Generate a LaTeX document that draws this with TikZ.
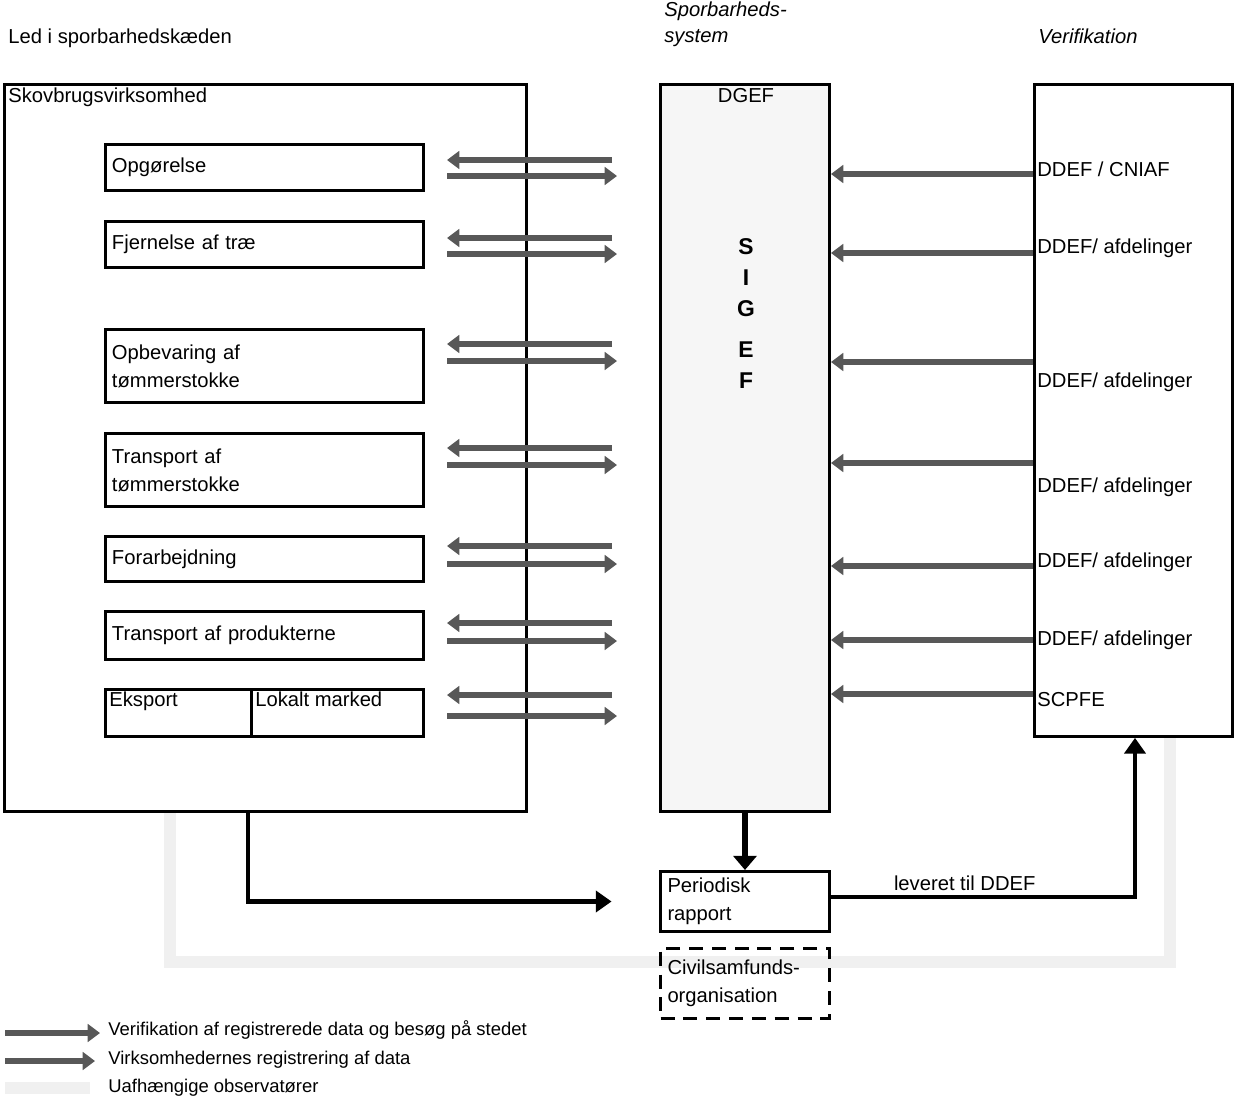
\documentclass[tikz,border=0pt]{standalone}
\usepackage{fontspec}
\setmainfont{Liberation Sans}
\usetikzlibrary{arrows.meta,positioning}

\definecolor{arrgray}{HTML}{585858}
\definecolor{obsgray}{HTML}{F0F0F0}
\definecolor{sysfill}{HTML}{F6F6F6}

\tikzset{
  box/.style={draw, line width=1.7pt, anchor=north west, inner sep=2pt, align=left},
  txt/.style={inner sep=0pt, anchor=west, text height=1.6ex, text depth=0.4ex, font=\fontsize{11.5}{14}\selectfont},
  datarrow/.style={arrgray, line width=3.4pt, -{Triangle[length=7pt,width=10pt]}},
  blackarrow/.style={black, line width=2.8pt, -{Triangle[length=9pt,width=12pt]}},
  obsline/.style={obsgray, line width=7pt},
}

\begin{document}
\begin{tikzpicture}[x=0.02cm,y=-0.02cm,font=\fontsize{11.5}{14}\selectfont]
  \useasboundingbox (0,0) rectangle (1234,1099);

  % uafhaengige observatoerer
  \draw[obsline] (170,812) -- (170,962) -- (1170,962) -- (1170,737);

  % headings
  \node[txt] (hled) at (8,38) {Led i sporbarhedskæden};
  \node[inner sep=0pt, anchor=west, align=left, font=\fontsize{11.5}{14}\selectfont\itshape] (hsys) at (664,24) {Sporbarheds-\\[1pt]system};
  \node[txt, font=\fontsize{11.5}{14}\selectfont\itshape] (hver) at (1038,38) {Verifikation};

  % skovbrugsvirksomhed
  \node[box, minimum width=10.44cm, minimum height=14.54cm] (skov) at (3,83) {};
  \node[txt] (skovlbl) at (8,97) {Skovbrugsvirksomhed};

  \node[box, minimum width=6.36cm, minimum height=0.92cm, text width=6.1cm] (opg) at (104,143) {Opgørelse};
  \node[box, minimum width=6.36cm, minimum height=0.92cm, text width=6.1cm] (fje) at (104,220) {Fjernelse af træ};
  \node[box, minimum width=6.36cm, minimum height=1.46cm, text width=6.1cm] (opb) at (104,328) {Opbevaring af\\[2pt]tømmerstokke};
  \node[box, minimum width=6.36cm, minimum height=1.46cm, text width=6.1cm] (tra) at (104,432) {Transport af\\[2pt]tømmerstokke};
  \node[box, minimum width=6.36cm, minimum height=0.9cm, text width=6.1cm] (for) at (104,535) {Forarbejdning};
  \node[box, minimum width=6.36cm, minimum height=0.96cm, text width=6.1cm] (trp) at (104,610) {Transport af produkterne};
  \node[box, minimum width=2.92cm, minimum height=0.94cm] (eks) at (104,688) {};
  \node[box, minimum width=3.44cm, minimum height=0.94cm] (lok) at (250,688) {};
  \node[txt] (ekslbl) at (109,701) {Eksport};
  \node[txt] (loklbl) at (255,701) {Lokalt marked};

  % sporbarhedssystem
  \node[box, fill=sysfill, minimum width=3.38cm, minimum height=14.54cm] (sigef) at (659,83) {};
  \node[txt, anchor=center] (dgef) at (746,97) {DGEF};
  \foreach \l/\y in {S/247, I/278, G/309, E/350, F/381}
    \node[inner sep=0pt, font=\fontsize{13}{15}\selectfont\bfseries] (sig\l) at (746,\y) {\l};

  % verifikation
  \node[box, minimum width=3.96cm, minimum height=13.04cm] (verif) at (1033,83) {};
  \foreach \y/\lbl [count=\i] in {171/{DDEF / CNIAF}, 248/{DDEF/ afdelinger}, 382/{DDEF/ afdelinger},
      487/{DDEF/ afdelinger}, 562/{DDEF/ afdelinger}, 640/{DDEF/ afdelinger}, 701/{SCPFE}}
    \node[txt] (ver\i) at (1037,\y) {\lbl};

  % registrering og verifikation mellem led og system
  \foreach \ya/\yb in {160/176, 238/254, 344/361, 448/465, 546/564, 623/641, 695/716} {
    \draw[datarrow] (612,\ya) -- (447,\ya);
    \draw[datarrow] (447,\yb) -- (617,\yb);
  }
  \foreach \y in {174, 253, 362, 463, 566, 640, 694}
    \draw[datarrow] (verif.west |- 0,\y) -- (sigef.east |- 0,\y);

  % rapporter
  \node[box, minimum width=3.38cm, minimum height=1.2cm, text width=3.1cm] (rap) at (659,870) {Periodisk\\[2pt]rapport};
  \node[box, dashed, dash pattern=on 8pt off 5pt, minimum width=3.38cm, minimum height=1.4cm, text width=3.1cm] (civ) at (659,947) {Civilsamfunds-\\[2pt]organisation};

  \draw[black, line width=3.6pt, -{Triangle[length=8pt,width=13pt]}] (sigef.south) -- (rap.north);
  \draw[blackarrow, shorten >=27\pgflinewidth/2.8] (skov.south west -| 248,0) |- (rap.west);
  \draw[blackarrow] (rap.east |- 0,897) -| (verif.south -| 1135,0)
    node[pos=0.22, above, inner sep=2pt] (lev) {leveret til DDEF};

  % legend
  \draw[datarrow] (5,1033) -- (100,1033);
  \node[txt, font=\fontsize{10.5}{12}\selectfont] (leg1) at (108,1030) {Verifikation af registrerede data og besøg på stedet};
  \draw[datarrow] (5,1061) -- (95,1061);
  \node[txt, font=\fontsize{10.5}{12}\selectfont] (leg2) at (108,1059) {Virksomhedernes registrering af data};
  \draw[obsline] (5,1088) -- (90,1088);
  \node[txt, font=\fontsize{10.5}{12}\selectfont] (leg3) at (108,1087) {Uafhængige observatører};
\end{tikzpicture}
\end{document}
